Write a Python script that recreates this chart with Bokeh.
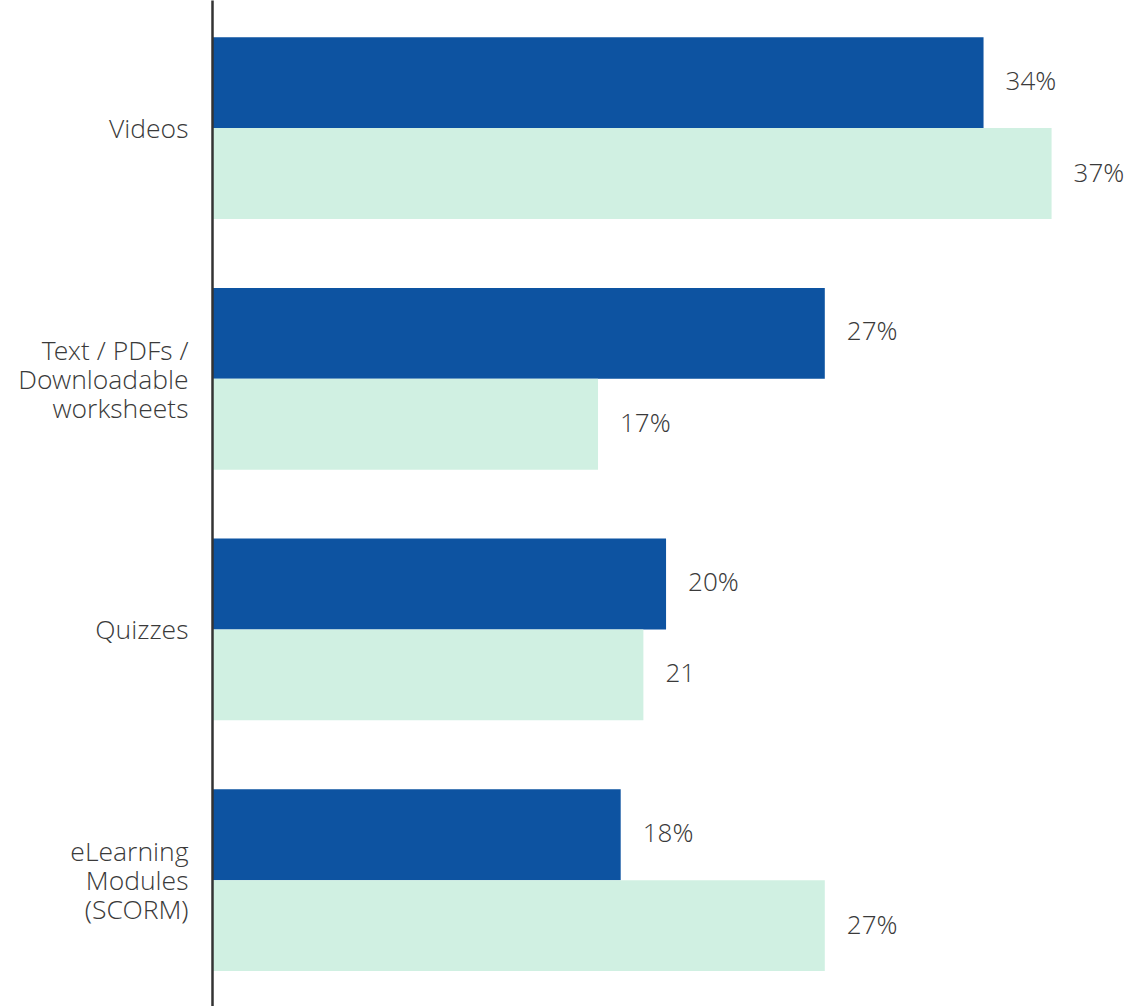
from bokeh.plotting import figure
from bokeh.models import Range1d, FixedTicker, ColumnDataSource
from bokeh.transform import dodge
from bokeh.core.properties import value
from bokeh.embed import file_html
from bokeh.resources import INLINE

categories = ["Videos", "Text / PDFs /\nDownloadable\nworksheets", "Quizzes", "eLearning\nModules\n(SCORM)"]
series_a = [34, 27, 20, 18]
series_b = [37, 17, 19, 27]
labels_a = ["34%", "27%", "20%", "18%"]
labels_b = ["37%", "17%", "21", "27%"]

DARK = "#0D53A1"
LIGHT = "#D0F0E2"
TEXT = "#3a3a3a"
FONT = "'Open Sans Light', 'Open Sans'"

idx = list(range(len(categories)))
src = ColumnDataSource(dict(y=idx, a=series_a, b=series_b, la=labels_a, lb=labels_b))

p = figure(width=1147, height=1006, output_backend="svg", toolbar_location=None,
           x_range=Range1d(0, 41.23), y_range=Range1d(3.504, -0.509),
           min_border_left=212, min_border_right=0, min_border_top=0, min_border_bottom=0,
           x_axis_location=None)
p.outline_line_color = None
p.grid.visible = False
p.background_fill_color = "white"
p.border_fill_color = "white"

bh = 0.3625
p.hbar(y=dodge("y", -bh / 2, range=p.y_range), right="a", left=0, height=bh, source=src,
       fill_color=DARK, line_color=None)
p.hbar(y=dodge("y", bh / 2, range=p.y_range), right="b", left=0, height=bh, source=src,
       fill_color=LIGHT, line_color=None)

p.text(x="a", y=dodge("y", -bh / 2, range=p.y_range), text="la", source=src, x_offset=22,
       y_offset=-3, text_baseline="middle", text_align="left", text_font=value(FONT),
       text_font_size="26px", text_color=TEXT)
p.text(x="b", y=dodge("y", bh / 2, range=p.y_range), text="lb", source=src, x_offset=22,
       y_offset=-2, text_baseline="middle", text_align="left", text_font=value(FONT),
       text_font_size="26px", text_color=TEXT)

ax = p.yaxis[0]
ax.ticker = FixedTicker(ticks=idx)
ax.major_label_overrides = {i: c for i, c in zip(idx, categories)}
ax.major_tick_line_color = None
ax.minor_tick_line_color = None
ax.major_tick_out = 0
ax.major_tick_in = 0
ax.axis_line_color = "#333333"
ax.axis_line_width = 2.5
ax.major_label_standoff = 24
ax.major_label_text_font = FONT
ax.major_label_text_font_size = "26.5px"
ax.major_label_text_color = TEXT
ax.major_label_text_line_height = 0.81

open("out.html", "w").write(file_html(p, INLINE))
